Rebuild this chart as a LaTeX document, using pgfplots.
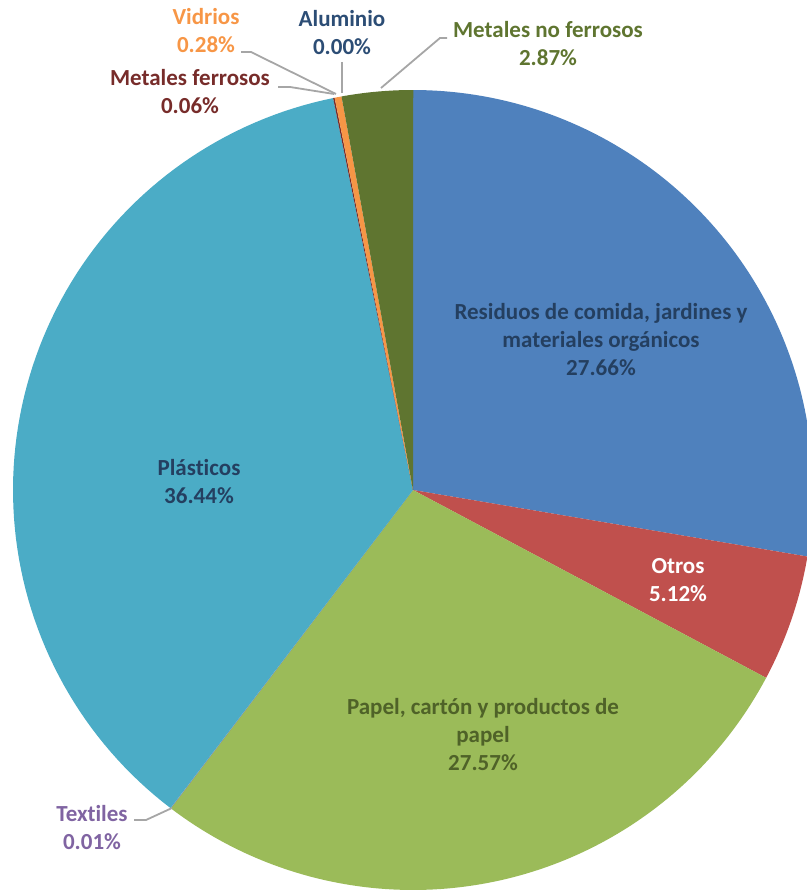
\documentclass[border=0pt]{standalone}
\usepackage{pgfplots}
\pgfplotsset{compat=1.18}
\usepackage{fontspec}
\setmainfont{Carlito}[Ligatures=NoCommon]

\definecolor{cBlue}{HTML}{4F81BD}
\definecolor{cRed}{HTML}{C0504D}
\definecolor{cGreen}{HTML}{9BBB59}
\definecolor{cPurple}{HTML}{8064A2}
\definecolor{cTeal}{HTML}{4BACC6}
\definecolor{cDarkRed}{HTML}{772C2A}
\definecolor{cOrange}{HTML}{F79646}
\definecolor{cNavy}{HTML}{2C4D75}
\definecolor{cOlive}{HTML}{5F7530}
\definecolor{tBlue}{HTML}{243F60}
\definecolor{tGreen}{HTML}{4F6228}
\definecolor{tLine}{HTML}{A6A6A6}

\tikzset{lbl/.style={font=\fontsize{11.5}{14}\selectfont\bfseries, align=center, inner sep=0pt}}

% share in percent, colour; slices run clockwise from the top
\newcommand\slice[2]{%
  \pgfmathsetmacro\endang{\curang-3.6*#1}%
  \ifdim #1pt>0pt
  \edef\tmp{\noexpand\addplot[fill=#2, draw=none, domain=\endang:\curang, samples=90]
    ({400*cos(x)},{400*sin(x)}) -- (axis cs:0,0) -- cycle;}\tmp
  \fi
  \xdef\curang{\endang}}

\begin{document}
\begin{tikzpicture}
\begin{axis}[
    width=403.5pt, height=445pt, scale only axis,
    xmin=-413, xmax=394, ymin=-400, ymax=490,
    hide axis, clip=true,
]
\xdef\curang{90}
\slice{27.66}{cBlue}     % Residuos de comida, jardines y materiales orgánicos
\slice{5.12}{cRed}       % Otros
\slice{27.57}{cGreen}    % Papel, cartón y productos de papel
\slice{0.01}{cPurple}    % Textiles
\slice{36.44}{cTeal}     % Plásticos
\slice{0.06}{cDarkRed}   % Metales ferrosos
\slice{0.28}{cOrange}    % Vidrios
\slice{0.00}{cNavy}      % Aluminio
\slice{2.87}{cOlive}     % Metales no ferrosos

% leader lines
\draw[tLine, line width=0.9pt] (axis cs:-172,438) -- (axis cs:-162,438) -- (axis cs:-77,396);
\draw[tLine, line width=0.9pt] (axis cs:-135,403) -- (axis cs:-123,403) -- (axis cs:-79,396);
\draw[tLine, line width=0.9pt] (axis cs:-71,428) -- (axis cs:-71,397);
\draw[tLine, line width=0.9pt] (axis cs:34,452) -- (axis cs:27,452) -- (axis cs:-32,402);
\draw[tLine, line width=0.9pt] (axis cs:-279,-330) -- (axis cs:-267,-330) -- (axis cs:-241,-318);

% labels
\node[lbl, text=tBlue] at (axis cs:188,150) {\textbf{Residuos de comida, jardines y}\\\textbf{materiales orgánicos}\\\textbf{27.66\%}};
\node[lbl, text=white] at (axis cs:265,-90) {\textbf{Otros}\\\textbf{5.12\%}};
\node[lbl, text=tGreen] at (axis cs:70,-245) {\textbf{Papel, cartón y productos de}\\\textbf{papel}\\\textbf{27.57\%}};
\node[lbl, text=tBlue] at (axis cs:-214,8) {\textbf{Plásticos}\\\textbf{36.44\%}};
\node[lbl, text=cPurple] at (axis cs:-321,-338) {\textbf{Textiles}\\\textbf{0.01\%}};
\node[lbl, text=cDarkRed] at (axis cs:-223,398) {\textbf{Metales ferrosos}\\\textbf{0.06\%}};
\node[lbl, text=cOrange] at (axis cs:-207,459) {\textbf{Vidrios}\\\textbf{0.28\%}};
\node[lbl, text=cNavy] at (axis cs:-71,457) {\textbf{Aluminio}\\\textbf{0.00\%}};
\node[lbl, text=cOlive] at (axis cs:135,446) {\textbf{Metales no ferrosos}\\\textbf{2.87\%}};
\end{axis}
\pgfresetboundingbox
\path[use as bounding box] (current axis.south west) rectangle (current axis.north east);
\end{tikzpicture}
\end{document}
